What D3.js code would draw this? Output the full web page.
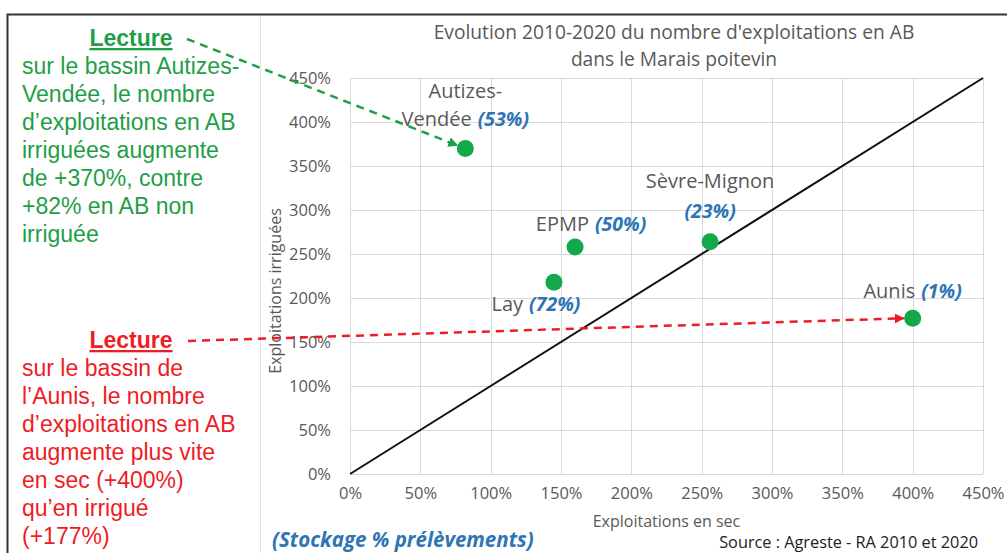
<!DOCTYPE html>
<html>
<head>
<meta charset="utf-8">
<script src="https://cdn.jsdelivr.net/npm/d3@7"></script>
<style>
  body { margin: 0; background: #fff; }
  svg { display: block; }
  .tick-label { font-family: "Open Sans", sans-serif; fill: #595959; font-size: 16.5px; }
  .axis-title { font-family: "Open Sans", sans-serif; fill: #595959; font-size: 16px; }
  .title { font-family: "Open Sans", sans-serif; fill: #595959; font-size: 19.2px; }
  .pt-name { font-family: "Open Sans", sans-serif; fill: #595959; font-size: 20px; }
  .pt-pct { font-family: "Open Sans", sans-serif; fill: #2e75b6; font-size: 19.5px; font-weight: bold; font-style: italic; }
  .note { font-family: "Liberation Sans", Arial, sans-serif; font-size: 23px; }
</style>
</head>
<body>
<div class="chart"></div>
<script>
// data
var basins = ["Autizes-Vendée", "EPMP", "Lay", "Sèvre-Mignon", "Aunis"];
var secGrowth = [82, 160, 145, 256, 400];      // Exploitations en sec (%)
var irrigGrowth = [370, 258, 218, 264, 177];   // Exploitations irriguées (%)
var stockage = ["53%", "50%", "72%", "23%", "1%"];
var tickValues = [0, 50, 100, 150, 200, 250, 300, 350, 400, 450];

var greenNote = ["sur le bassin Autizes-", "Vendée, le nombre", "d\u2019exploitations en AB",
  "irriguées augmente", "de +370%, contre", "+82% en AB non", "irriguée"];
var redNote = ["sur le bassin de", "l\u2019Aunis, le nombre", "d\u2019exploitations en AB",
  "augmente plus vite", "en sec (+400%)", "qu\u2019en irrigué", "(+177%)"];

// label layout per point: name lines, offset of each line from the point
var labelLayout = [
  { lines: ["Autizes-", "Vendée"], dy: [-56, -28], pctLine: 1 },
  { lines: ["EPMP"], dy: [-22], pctLine: 0, dx: 16 },
  { lines: ["Lay"], dy: [23], pctLine: 0, dx: -18 },
  { lines: ["Sèvre-Mignon", ""], dy: [-59, -29], pctLine: 1 },
  { lines: ["Aunis"], dy: [-26], pctLine: 0 }
];

var width = 1007;
var height = 553;

var svg = d3
  .select(".chart")
  .append("svg")
  .attr("width", width)
  .attr("height", height);

var defs = svg.append("defs");
[["arrow-green", "#1f9e48"], ["arrow-red", "#ee1c25"]].forEach(function (m) {
  defs.append("marker")
    .attr("id", m[0])
    .attr("viewBox", "0 0 10 10")
    .attr("refX", 9)
    .attr("refY", 5)
    .attr("markerWidth", 4)
    .attr("markerHeight", 4)
    .attr("orient", "auto")
    .append("path")
    .attr("d", "M0,0L10,5L0,10Z")
    .attr("fill", m[1]);
});

// outer frame + chart area border
svg.append("path")
  .attr("d", "M7.5,553V14.5H1007")
  .attr("fill", "none")
  .attr("stroke", "#333")
  .attr("stroke-width", 2);
svg.append("line")
  .attr("x1", 260.5).attr("x2", 260.5)
  .attr("y1", 16).attr("y2", 553)
  .attr("stroke", "#e4e4e4");

var x = d3.scaleLinear().domain([0, 450]).range([350, 983]);
var y = d3.scaleLinear().domain([0, 450]).range([474, 78]);

// gridlines
var grid = svg.append("g").attr("class", "grid");
grid.selectAll(".gx")
  .data(tickValues)
  .enter()
  .append("line")
  .attr("x1", (d) => Math.round(x(d)) + 0.5)
  .attr("x2", (d) => Math.round(x(d)) + 0.5)
  .attr("y1", y(450))
  .attr("y2", y(0))
  .attr("stroke", "#d9d9d9");
grid.selectAll(".gy")
  .data(tickValues)
  .enter()
  .append("line")
  .attr("x1", x(0))
  .attr("x2", x(450))
  .attr("y1", (d) => Math.round(y(d)) + 0.5)
  .attr("y2", (d) => Math.round(y(d)) + 0.5)
  .attr("stroke", "#d9d9d9");

// axes (labels only, like the excel chart)
var fmt = (d) => d + "%";
var xAxis = svg.append("g")
  .attr("transform", `translate(0,${y(0) + 8})`)
  .call(d3.axisBottom(x).tickValues(tickValues).tickFormat(fmt).tickSize(0));
var yAxis = svg.append("g")
  .attr("transform", `translate(${x(0) - 16},0)`)
  .call(d3.axisLeft(y).tickValues(tickValues).tickFormat(fmt).tickSize(0));
[xAxis, yAxis].forEach(function (a) {
  a.select(".domain").remove();
  a.selectAll("text").attr("class", "tick-label").attr("font-size", null).attr("font-family", null);
});
xAxis.selectAll("text").attr("dy", "0.85em");
yAxis.selectAll("text").attr("dy", "0.35em");

svg.append("text")
  .attr("class", "axis-title")
  .attr("x", (x(0) + x(450)) / 2)
  .attr("y", 527)
  .attr("text-anchor", "middle")
  .text("Exploitations en sec");
svg.append("text")
  .attr("class", "axis-title")
  .attr("transform", `translate(281,${(y(0) + y(450)) / 2 + 15}) rotate(-90)`)
  .attr("text-anchor", "middle")
  .text("Exploitations irriguées");

// title
var title = svg.append("text").attr("class", "title").attr("text-anchor", "middle");
title.append("tspan").attr("x", 674).attr("y", 39).text("Evolution 2010-2020 du nombre d'exploitations en AB");
title.append("tspan").attr("x", 674).attr("y", 66).text("dans le Marais poitevin");

// diagonal y = x
svg.append("line")
  .attr("x1", x(0)).attr("y1", y(0))
  .attr("x2", x(450)).attr("y2", y(450))
  .attr("stroke", "#111")
  .attr("stroke-width", 2);

// points
var points = basins.map((b, i) => ({ name: b, sec: secGrowth[i], irr: irrigGrowth[i], pct: stockage[i], lay: labelLayout[i] }));

svg.append("g")
  .selectAll("circle")
  .data(points)
  .enter()
  .append("circle")
  .attr("cx", (d) => x(d.sec))
  .attr("cy", (d) => y(d.irr))
  .attr("r", 8.5)
  .attr("fill", "#14a84c");

// point labels
points.forEach(function (d) {
  var cx = x(d.sec) + (d.lay.dx || 0);
  var cy = y(d.irr);
  d.lay.lines.forEach(function (line, j) {
    var t = svg.append("text")
      .attr("x", cx)
      .attr("y", cy + d.lay.dy[j])
      .attr("dy", "0.35em")
      .attr("text-anchor", "middle");
    if (line) t.append("tspan").attr("class", "pt-name").text(line);
    if (j === d.lay.pctLine) {
      t.append("tspan").attr("class", "pt-pct").attr("dx", line ? 6 : 0).text("(" + d.pct + ")");
    }
  });
});

// reading notes
function note(lines, color, top) {
  var g = svg.append("g").attr("class", "note").attr("fill", color);
  g.append("text")
    .attr("x", 131)
    .attr("y", top)
    .attr("text-anchor", "middle")
    .attr("font-weight", "bold")
    .attr("text-decoration", "underline")
    .text("Lecture");
  g.selectAll(".l")
    .data(lines)
    .enter()
    .append("text")
    .attr("x", 22)
    .attr("y", (d, i) => top + 28 * (i + 1))
    .text((d) => d);
}
note(greenNote, "#1f9e48", 46);
note(redNote, "#ee1c25", 348);

// dashed arrows from the notes to the points
var aut = points[0];
var aunis = points[4];
svg.append("line")
  .attr("x1", 187).attr("y1", 39)
  .attr("x2", x(aut.sec) - 8).attr("y2", y(aut.irr) - 3)
  .attr("stroke", "#1f9e48")
  .attr("stroke-width", 2.5)
  .attr("stroke-dasharray", "8,6")
  .attr("marker-end", "url(#arrow-green)");
svg.append("line")
  .attr("x1", 188).attr("y1", 341)
  .attr("x2", x(aunis.sec) - 9).attr("y2", y(aunis.irr))
  .attr("stroke", "#ee1c25")
  .attr("stroke-width", 2.5)
  .attr("stroke-dasharray", "8,6")
  .attr("marker-end", "url(#arrow-red)");

// footer
svg.append("text")
  .attr("class", "pt-pct")
  .attr("x", 272)
  .attr("y", 547)
  .style("font-size", "20.5px")
  .text("(Stockage % prélèvements)");
svg.append("text")
  .attr("x", 978)
  .attr("y", 548)
  .attr("text-anchor", "end")
  .attr("font-family", "'Open Sans', sans-serif")
  .attr("font-size", "16.3px")
  .attr("fill", "#222")
  .text("Source : Agreste  - RA 2010 et 2020");
</script>
</body>
</html>
